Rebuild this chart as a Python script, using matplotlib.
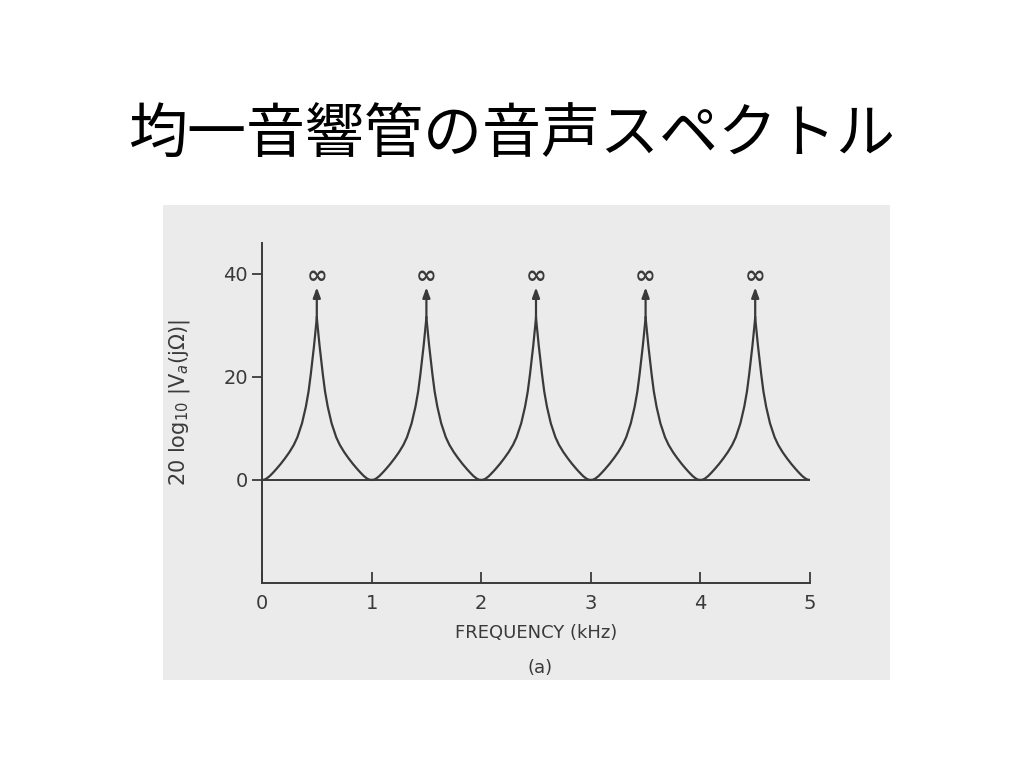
import matplotlib
matplotlib.use("Agg")
import matplotlib.pyplot as plt

# slide title
title_text = "均一音響管の音声スペクトル"

# resonance peaks (kHz) of the uniform tube
peak_freqs = [0.5, 1.5, 2.5, 3.5, 4.5]

# one lobe profile: distance from peak (kHz) -> level (dB)
lobe_offsets = [0.0, 0.005, 0.012, 0.025, 0.04, 0.055, 0.075, 0.1, 0.135, 0.177,
                0.21, 0.25, 0.29, 0.33, 0.37, 0.40, 0.43, 0.46, 0.48, 0.5]
lobe_levels = [31.6, 30.4, 28.9, 26.1, 23.3, 20.5, 17.2, 14.2, 11.0, 8.3,
               6.8, 5.4, 4.2, 3.1, 2.1, 1.4, 0.75, 0.25, 0.06, 0.0]

arrow_base = 31.6
arrow_tip = 37.4
infinity_level = 39.6

x_ticks = [0, 1, 2, 3, 4, 5]
y_ticks = [0, 20, 40]

ink = "#3a3a3a"
label_font = ["DejaVu Sans"]

fig = plt.figure(figsize=(10.24, 7.68), dpi=100)
fig.patch.set_facecolor("white")

# scanned page background
bg = fig.add_axes([163 / 1024, 1 - 680 / 768, (890 - 163) / 1024, (680 - 205) / 768])
bg.set_facecolor("#ebebeb")
bg.set_xticks([])
bg.set_yticks([])
for s in bg.spines.values():
    s.set_visible(False)

fig.text(0.5, 1 - 136 / 768, title_text, ha="center", va="center",
         fontsize=42.5, family=["Noto Sans CJK JP", "DejaVu Sans"], color="black")

ax = fig.add_axes([262 / 1024, 1 - 583 / 768, (810 - 262) / 1024, (583 - 243) / 768])
ax.patch.set_alpha(0)

for pk in peak_freqs:
    left_x = [pk - d for d in lobe_offsets]
    right_x = [pk + d for d in lobe_offsets]
    ax.plot(left_x, lobe_levels, color=ink, lw=1.6, solid_capstyle="round")
    ax.plot(right_x, lobe_levels, color=ink, lw=1.6, solid_capstyle="round")
    ax.annotate("", xy=(pk, arrow_tip), xytext=(pk, arrow_base),
                arrowprops=dict(arrowstyle="-|>,head_length=0.6,head_width=0.22",
                                color=ink, lw=1.6, shrinkA=0, shrinkB=0))
    ax.text(pk, infinity_level, "∞", ha="center", va="center",
            fontsize=18, fontweight="bold", color=ink, family=label_font)

ax.axhline(0, xmin=0, xmax=1, color=ink, lw=1.4)

ax.set_xlim(0, 5)
ax.set_ylim(-20, 46)
ax.spines["top"].set_visible(False)
ax.spines["right"].set_visible(False)
for side in ["left", "bottom"]:
    ax.spines[side].set_color(ink)
    ax.spines[side].set_linewidth(1.4)

ax.set_xticks(x_ticks)
ax.set_yticks(y_ticks)
ax.tick_params(axis="x", direction="in", length=8, width=1.3, color=ink,
               labelsize=14, labelcolor=ink, pad=8)
ax.tick_params(axis="y", direction="out", length=7, width=1.3, color=ink,
               labelsize=14, labelcolor=ink, pad=3)
for lab in ax.get_xticklabels() + ax.get_yticklabels():
    lab.set_family(label_font)

ax.set_xlabel("FREQUENCY (kHz)", fontsize=13, color=ink, family=label_font, labelpad=8)
ax.set_ylabel(r"20 log$_{10}$ |V$_a$(j$\Omega$)|", fontsize=15, color=ink,
              family=label_font)
ax.yaxis.set_label_coords(-0.128, 0.53)

fig.text(540 / 1024, 1 - 668 / 768, "(a)", ha="center", va="center",
         fontsize=13, color=ink, family=label_font)

fig.savefig("out.png", dpi=100)
